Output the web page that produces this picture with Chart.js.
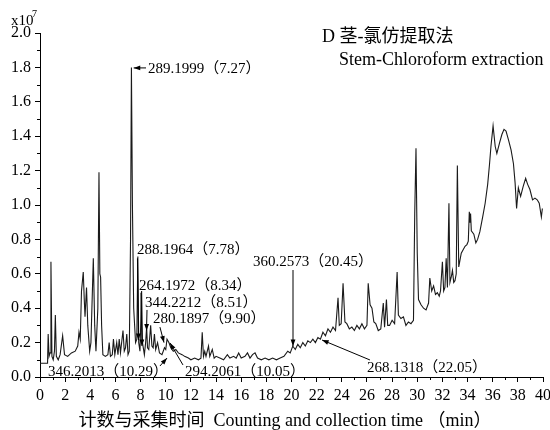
<!DOCTYPE html>
<html>
<head>
<meta charset="utf-8">
<script src="https://cdn.jsdelivr.net/npm/chart.js@4"></script>
<style>
  html, body { margin: 0; padding: 0; background: #fff; }
  #wrap { width: 550px; height: 430px; }
</style>
</head>
<body>
<div id="wrap"><canvas id="chart" width="550" height="430"></canvas></div>
<script>
// retention time (min)
const times = [
  0.0, 0.6, 0.65, 0.72, 0.8, 0.87, 0.95, 1.05, 1.15, 1.22, 1.3, 1.45, 1.6, 1.8, 1.95,
  2.2, 2.5, 2.8, 3.0, 3.1, 3.2, 3.3, 3.44, 3.52, 3.58, 3.7, 3.8, 3.95, 4.05, 4.24,
  4.35, 4.45, 4.6, 4.69, 4.76, 4.82, 4.9, 5.0, 5.2, 5.4, 5.5, 5.6, 5.75, 5.84, 5.95,
  6.1, 6.2, 6.3, 6.4, 6.6, 6.7, 6.8, 6.9, 7.0, 7.1, 7.2, 7.27, 7.35, 7.45, 7.6,
  7.7, 7.78, 7.85, 7.95, 8.08, 8.15, 8.3, 8.4, 8.48, 8.55, 8.65, 8.8, 8.9, 9.0, 9.1,
  9.2, 9.35, 9.5, 9.7, 9.9, 10.0, 10.1, 10.25, 10.4, 10.6, 10.8, 11.0, 11.3, 11.5, 11.8,
  12.0, 12.3, 12.6, 12.8, 12.9, 13.0, 13.1, 13.2, 13.4, 13.5, 13.7, 13.85, 14.0, 14.3, 14.6,
  14.9, 15.1, 15.4, 15.6, 15.8, 16.0, 16.3, 16.5, 16.7, 16.9, 17.1, 17.3, 17.6, 17.9, 18.2,
  18.5, 18.8, 19.1, 19.4, 19.7, 19.9, 20.1, 20.3, 20.5, 20.7, 20.9, 21.1, 21.3, 21.5, 21.7,
  21.9, 22.1, 22.3, 22.5, 22.7, 22.9, 23.1, 23.3, 23.5, 23.7, 23.8, 23.95, 24.1, 24.25, 24.4,
  24.6, 24.8, 25.0, 25.2, 25.4, 25.6, 25.8, 26.0, 26.1, 26.25, 26.4, 26.55, 26.7, 26.9, 27.1,
  27.3, 27.4, 27.55, 27.65, 27.8, 28.0, 28.2, 28.4, 28.5, 28.7, 28.9, 29.1, 29.3, 29.5, 29.7,
  29.8, 29.9, 30.0, 30.1, 30.3, 30.5, 30.7, 30.9, 31.0, 31.15, 31.3, 31.45, 31.6, 31.75, 31.85,
  32.0, 32.1, 32.2, 32.3, 32.4, 32.52, 32.6, 32.7, 32.8, 32.9, 33.0, 33.1, 33.19, 33.3, 33.5,
  33.65, 33.8, 33.95, 34.06, 34.14, 34.2, 34.24, 34.3, 34.5, 34.66, 34.8, 34.98, 35.2, 35.4, 35.6,
  35.75, 35.86, 36.03, 36.2, 36.33, 36.54, 36.73, 36.9, 37.06, 37.25, 37.46, 37.65, 37.78, 37.9, 38.04,
  38.22, 38.43, 38.62, 38.78, 38.96, 39.17, 39.36, 39.54, 39.7, 39.87, 39.95
]
// intensity (x10^7 counts)
const intensity = [
  0.08, 0.08, 0.25, 0.12, 0.14, 0.67, 0.12, 0.10, 0.15, 0.36, 0.12, 0.10, 0.13, 0.24, 0.13,
  0.12, 0.14, 0.15, 0.18, 0.26, 0.22, 0.50, 0.61, 0.45, 0.35, 0.52, 0.30, 0.15, 0.20, 0.69,
  0.30, 0.15, 0.40, 1.19, 0.60, 0.58, 0.30, 0.13, 0.12, 0.13, 0.20, 0.12, 0.13, 0.22, 0.13,
  0.20, 0.13, 0.22, 0.14, 0.27, 0.15, 0.17, 0.25, 0.13, 0.15, 0.80, 1.80, 1.00, 0.40, 0.20,
  0.22, 0.70, 0.20, 0.15, 0.50, 0.20, 0.13, 0.20, 0.29, 0.17, 0.16, 0.30, 0.18, 0.17, 0.25,
  0.16, 0.20, 0.14, 0.13, 0.17, 0.16, 0.22, 0.20, 0.17, 0.15, 0.16, 0.14, 0.13, 0.12, 0.11,
  0.10, 0.11, 0.10, 0.11, 0.26, 0.12, 0.15, 0.12, 0.18, 0.12, 0.16, 0.11, 0.12, 0.11, 0.10,
  0.13, 0.11, 0.12, 0.11, 0.14, 0.11, 0.12, 0.14, 0.11, 0.13, 0.14, 0.11, 0.10, 0.11, 0.10,
  0.11, 0.10, 0.11, 0.12, 0.15, 0.14, 0.18, 0.16, 0.19, 0.17, 0.20, 0.18, 0.21, 0.20, 0.22,
  0.20, 0.23, 0.22, 0.26, 0.24, 0.28, 0.26, 0.29, 0.27, 0.46, 0.30, 0.31, 0.545, 0.32, 0.31,
  0.28, 0.29, 0.27, 0.30, 0.28, 0.31, 0.28, 0.30, 0.545, 0.42, 0.40, 0.32, 0.31, 0.27, 0.28,
  0.43, 0.29, 0.45, 0.30, 0.30, 0.33, 0.31, 0.61, 0.36, 0.34, 0.35, 0.30, 0.32, 0.31, 0.33,
  0.95, 1.33, 0.72, 0.45, 0.42, 0.40, 0.39, 0.43, 0.575, 0.50, 0.53, 0.48, 0.49, 0.47, 0.50,
  0.67, 0.50, 0.52, 0.69, 0.52, 1.01, 0.55, 0.58, 0.62, 0.55, 0.56, 0.60, 1.23, 0.64, 0.72,
  0.74, 0.76, 0.77, 0.79, 0.96, 0.90, 0.95, 0.85, 0.83, 0.78, 0.80, 0.845, 0.93, 1.01, 1.12,
  1.24, 1.34, 1.46, 1.34, 1.30, 1.36, 1.41, 1.44, 1.43, 1.38, 1.32, 1.24, 1.13, 0.98, 1.10,
  1.05, 1.11, 1.155, 1.12, 1.09, 1.03, 1.04, 1.03, 1.01, 0.93, 0.98
]
const xTicks = [0, 40, 2]
const yTicks = [0, 2.0, 0.2]

// peak labels: text anchor (t, v) and arrow from -> to, in data units
const notes = [
  { text: '289.1999（7.27）', t: 8.59, v: 1.79, from: [8.43, 1.797], to: [7.45, 1.797] },
  { text: '288.1964（7.78）', t: 7.71, v: 0.74, from: [7.75, 0.69], to: [7.83, 0.215] },
  { text: '264.1972（8.34）', t: 7.87, v: 0.53, from: [8.03, 0.49], to: [8.11, 0.18] },
  { text: '344.2212（8.51）', t: 8.35, v: 0.43, from: [8.51, 0.39], to: [8.47, 0.27] },
  { text: '280.1897（9.90）', t: 8.99, v: 0.337, from: [9.54, 0.29], to: [9.86, 0.2] },
  { text: '294.2061（10.05）', t: 11.53, v: 0.029, from: [11.37, 0.07], to: [10.34, 0.198] },
  { text: '346.2013（10.29）', t: 0.64, v: 0.029, from: [9.54, 0.064], to: [10.1, 0.11] },
  { text: '360.2573（20.45）', t: 16.94, v: 0.669, from: [20.12, 0.622], to: [20.12, 0.18] },
  { text: '268.1318（22.05）', t: 26.0, v: 0.052, from: [26.24, 0.099], to: [22.43, 0.215] }
]

const serif = '"Liberation Serif", "DejaVu Serif", "Noto Sans CJK SC", serif'

const extras = {
  id: 'extras',
  afterDraw(chart) {
    const { ctx, scales: { x, y } } = chart
    ctx.save()
    ctx.strokeStyle = '#000'
    ctx.fillStyle = '#000'
    ctx.lineWidth = 1

    // minor ticks
    ctx.beginPath()
    for (let t = 1; t < 40; t += 2) {
      const px = Math.round(x.getPixelForValue(t)) + 0.5
      ctx.moveTo(px, y.bottom)
      ctx.lineTo(px, y.bottom + 3)
    }
    for (let i = 1; i < 20; i += 2) {
      const py = Math.round(y.getPixelForValue(i / 10)) + 0.5
      ctx.moveTo(x.left, py)
      ctx.lineTo(x.left - 3, py)
    }
    ctx.stroke()

    // peak labels and arrows
    ctx.font = '15px ' + serif
    ctx.textBaseline = 'middle'
    ctx.textAlign = 'left'
    notes.forEach(n => {
      ctx.fillText(n.text, x.getPixelForValue(n.t), y.getPixelForValue(n.v))
      const x1 = x.getPixelForValue(n.from[0]), y1 = y.getPixelForValue(n.from[1])
      const x2 = x.getPixelForValue(n.to[0]), y2 = y.getPixelForValue(n.to[1])
      const a = Math.atan2(y2 - y1, x2 - x1)
      ctx.beginPath()
      ctx.moveTo(x1, y1)
      ctx.lineTo(x2, y2)
      ctx.stroke()
      ctx.beginPath()
      ctx.moveTo(x2, y2)
      ctx.lineTo(x2 - 7 * Math.cos(a - 0.35), y2 - 7 * Math.sin(a - 0.35))
      ctx.lineTo(x2 - 7 * Math.cos(a + 0.35), y2 - 7 * Math.sin(a + 0.35))
      ctx.closePath()
      ctx.fill()
    })

    // titles
    ctx.font = '18px ' + serif
    ctx.fillText('D 茎-氯仿提取法', 322, 37)
    ctx.fillText('Stem-Chloroform extraction', 339, 60)
    ctx.textAlign = 'center'
    ctx.fillText('计数与采集时间  Counting and collection time （min）', 285, 421)
    ctx.textAlign = 'left'
    ctx.font = '15px ' + serif
    ctx.fillText('x10', 11, 21)
    ctx.font = '10px ' + serif
    ctx.fillText('7', 32, 14)
    ctx.restore()
  }
}

new Chart(document.getElementById('chart'), {
  type: 'line',
  data: {
    datasets: [{
      data: times.map((t, i) => ({ x: t, y: intensity[i] })),
      borderColor: '#1a1a1a',
      borderWidth: 1.1,
      pointRadius: 0,
      tension: 0,
      fill: false
    }]
  },
  options: {
    responsive: false,
    animation: false,
    layout: { padding: { top: 33, right: 7, left: 0, bottom: 0 } },
    plugins: { legend: { display: false }, tooltip: { enabled: false } },
    scales: {
      x: {
        type: 'linear',
        min: xTicks[0],
        max: xTicks[1],
        afterFit: s => { s.height = 53; s.paddingRight = 0; s.paddingLeft = 0 },
        ticks: { stepSize: xTicks[2], color: '#000', padding: 4, maxRotation: 0, font: { family: serif, size: 16 } },
        grid: { drawOnChartArea: false, drawTicks: true, tickLength: 5, color: '#000' },
        border: { display: true, color: '#000', width: 1 }
      },
      y: {
        min: yTicks[0],
        max: yTicks[1],
        afterFit: s => { s.width = 40; s.paddingTop = 0; s.paddingBottom = 0 },
        ticks: { stepSize: yTicks[2], color: '#000', padding: 4, font: { family: serif, size: 16 }, callback: v => v.toFixed(1) },
        grid: { drawOnChartArea: false, drawTicks: true, tickLength: 5, color: '#000' },
        border: { display: true, color: '#000', width: 1 }
      }
    }
  },
  plugins: [extras]
})
</script>
</body>
</html>
